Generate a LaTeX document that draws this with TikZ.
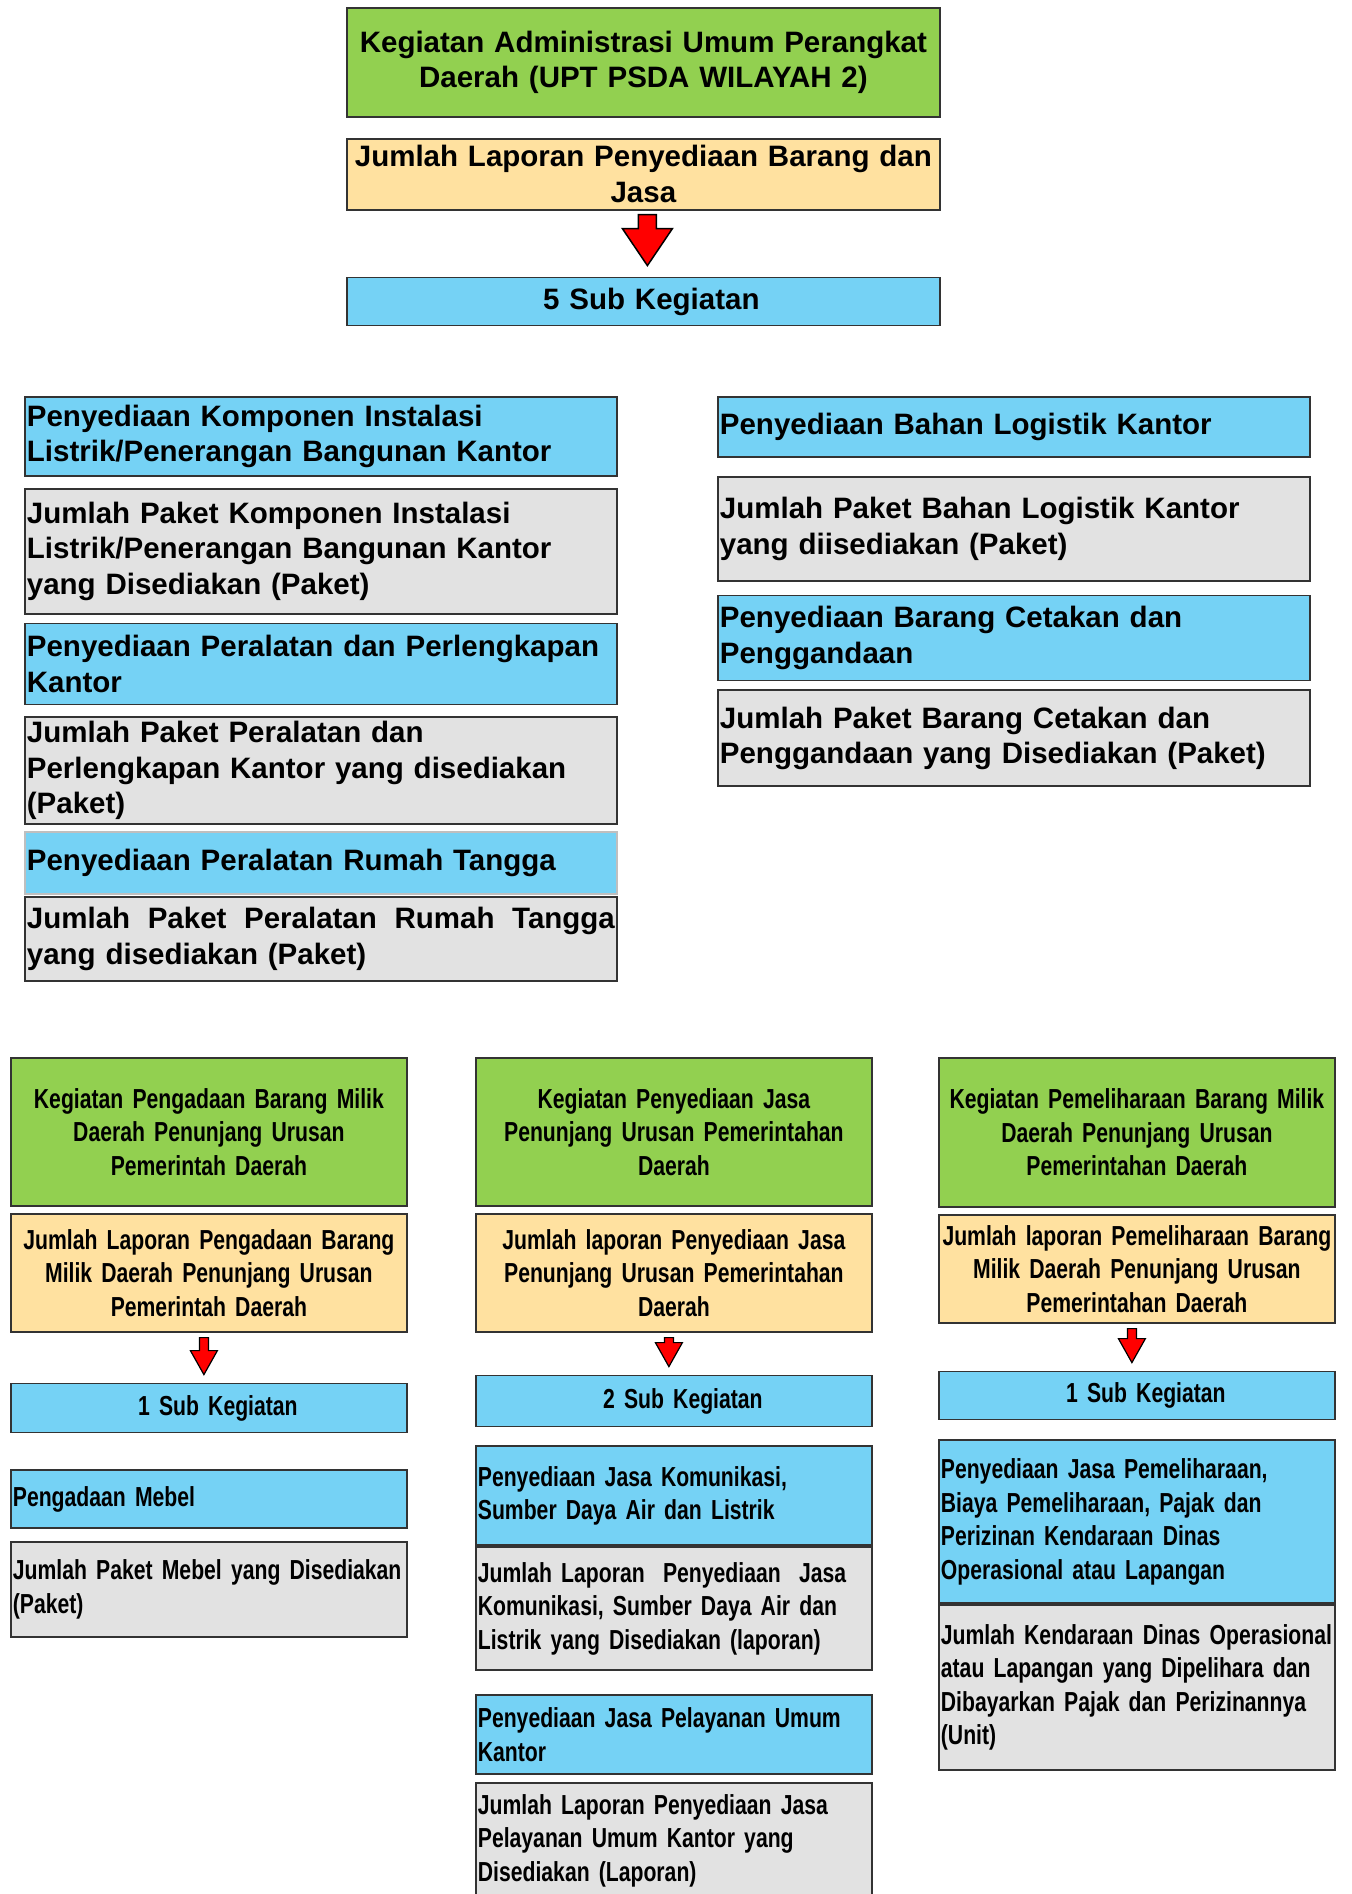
\documentclass[tikz,border=0pt]{standalone}
\usepackage{fontspec}
\setmainfont{Liberation Sans}
\newfontfamily\narrowfont{Liberation Sans}[FakeStretch=0.77]
\usetikzlibrary{calc,positioning}
\hyphenpenalty=10000
\exhyphenpenalty=10000
\definecolor{kegiatanColor}{RGB}{146,208,80}
\definecolor{laporanColor}{RGB}{255,225,160}
\definecolor{subColor}{RGB}{117,210,245}
\definecolor{paketColor}{RGB}{226,226,226}
\tikzset{box/.style={draw=black!80, line width=1.8pt, inner xsep=2pt, inner ysep=0pt}}
\tikzset{kegiatanbox/.style={box, fill=kegiatanColor, align=center}}
\tikzset{laporanbox/.style={box, fill=laporanColor, align=center}}
\tikzset{countbox/.style={box, fill=subColor, align=center}}
\tikzset{subbox/.style={box, fill=subColor, align=left}}
\tikzset{paketbox/.style={box, fill=paketColor, align=left}}
\tikzset{top/.style={font=\bfseries\fontsize{29.5}{35.5}\selectfont, text width=589pt}}
\tikzset{side/.style={font=\bfseries\fontsize{29.5}{35.5}\selectfont, text width=588pt}}
\tikzset{bottom/.style={font=\narrowfont\bfseries\fontsize{27.5}{33.5}\selectfont, text width=392pt}}
\tikzset{bigarrow/.style={fill=red, draw=black, line width=1.5pt, to path={let \p1=(\tikztostart), \p2=(\tikztotarget) in
	(\x1-9pt,\y1-4pt) -- (\x1+9pt,\y1-4pt) -- (\x1+9pt,\y2+48pt) -- (\x1+25pt,\y2+48pt) -- (\x1,\y2+11pt) -- (\x1-25pt,\y2+48pt) -- (\x1-9pt,\y2+48pt) -- cycle}}}
\tikzset{smallarrow/.style={fill=red, draw=black, line width=1.2pt, to path={let \p1=(\tikztostart), \p2=(\tikztotarget) in
	(\x1-4.5pt,\y1-5pt) -- (\x1+4.5pt,\y1-5pt) -- (\x1+4.5pt,\y2+32pt) -- (\x1+13.5pt,\y2+32pt) -- (\x1,\y2+8pt) -- (\x1-13.5pt,\y2+32pt) -- (\x1-4.5pt,\y2+32pt) -- cycle}}}

\begin{document}
\begin{tikzpicture}[x=1pt, y=-1pt]
	\useasboundingbox (0,0) rectangle (1351,1894);

	% Nodes
	\node (admin) [kegiatanbox, top, minimum height=109pt, anchor=north west] at (346,7) {Kegiatan Administrasi Umum Perangkat\\ Daerah (UPT PSDA WILAYAH 2)};
	\node (laporan) [laporanbox, top, minimum height=71pt, below=20pt of admin] {Jumlah Laporan Penyediaan Barang dan\\ Jasa};
	\node (subfive) [countbox, top, minimum height=48pt, below=66pt of laporan] {\hspace*{16pt}5 Sub Kegiatan};

	\node (komponen) [subbox, side, minimum height=79pt, anchor=north west] at (24,396) {Penyediaan Komponen Instalasi\\ Listrik/Penerangan Bangunan Kantor};
	\node (komponenpaket) [paketbox, side, minimum height=125pt, below=11pt of komponen] {Jumlah Paket Komponen Instalasi\\ Listrik/Penerangan Bangunan Kantor\\ yang Disediakan (Paket)};
	\node (peralatan) [subbox, side, minimum height=81pt, below=8pt of komponenpaket] {Penyediaan Peralatan dan Perlengkapan\\ Kantor};
	\node (peralatanpaket) [paketbox, side, minimum height=107pt, below=11pt of peralatan] {Jumlah Paket Peralatan dan\\ Perlengkapan Kantor yang disediakan\\ (Paket)};
	\node (rumahtangga) [subbox, side, draw=black!25, minimum height=62pt, below=6pt of peralatanpaket] {Penyediaan Peralatan Rumah Tangga};
	\node (rumahtanggapaket) [paketbox, side, minimum height=84pt, below=1pt of rumahtangga] {Jumlah \hfill Paket \hfill Peralatan \hfill Rumah \hfill Tangga\\ yang disediakan (Paket)};

	\node (logistik) [subbox, side, minimum height=60pt, anchor=north west] at (717,396) {Penyediaan Bahan Logistik Kantor};
	\node (logistikpaket) [paketbox, side, minimum height=104pt, below=18pt of logistik] {Jumlah Paket Bahan Logistik Kantor\\ yang diisediakan (Paket)};
	\node (cetakan) [subbox, side, minimum height=85pt, below=13pt of logistikpaket] {Penyediaan Barang Cetakan dan\\ Penggandaan};
	\node (cetakanpaket) [paketbox, side, minimum height=96pt, below=8pt of cetakan] {Jumlah Paket Barang Cetakan dan\\ Penggandaan yang Disediakan (Paket)};

	\node (pengadaan) [kegiatanbox, bottom, minimum height=148pt, anchor=north west] at (10,1057) {Kegiatan Pengadaan Barang Milik\\ Daerah Penunjang Urusan\\ Pemerintah Daerah};
	\node (pengadaanlaporan) [laporanbox, bottom, minimum height=118pt, below=6pt of pengadaan] {Jumlah Laporan Pengadaan Barang\\ Milik Daerah Penunjang Urusan\\ Pemerintah Daerah};
	\node (pengadaansub) [countbox, bottom, minimum height=49pt, below=50pt of pengadaanlaporan] {\hspace*{18pt}1 Sub Kegiatan};
	\node (mebel) [subbox, bottom, minimum height=58pt, below=36pt of pengadaansub] {Pengadaan Mebel};
	\node (mebelpaket) [paketbox, bottom, minimum height=95pt, below=12pt of mebel] {Jumlah Paket Mebel yang Disediakan\\ (Paket)};

	\node (jasa) [kegiatanbox, bottom, minimum height=148pt, anchor=north west] at (475,1057) {Kegiatan Penyediaan Jasa\\ Penunjang Urusan Pemerintahan\\ Daerah};
	\node (jasalaporan) [laporanbox, bottom, minimum height=118pt, below=6pt of jasa] {Jumlah laporan Penyediaan Jasa\\ Penunjang Urusan Pemerintahan\\ Daerah};
	\node (jasasub) [countbox, bottom, minimum height=51pt, below=42pt of jasalaporan] {\hspace*{18pt}2 Sub Kegiatan};
	\node (komunikasi) [subbox, bottom, minimum height=99pt, below=18pt of jasasub] {Penyediaan Jasa Komunikasi,\\ Sumber Daya Air dan Listrik};
	\node (komunikasipaket) [paketbox, bottom, minimum height=123pt, below=0pt of komunikasi] {Jumlah Laporan\ \ Penyediaan\ \ Jasa\\ Komunikasi, Sumber Daya Air dan\\ Listrik yang Disediakan (laporan)};
	\node (pelayanan) [subbox, bottom, minimum height=79pt, below=23pt of komunikasipaket] {Penyediaan Jasa Pelayanan Umum\\ Kantor};
	\node (pelayananpaket) [paketbox, bottom, minimum height=116pt, below=7pt of pelayanan] {Jumlah Laporan Penyediaan Jasa\\ Pelayanan Umum Kantor yang\\ Disediakan (Laporan)};

	\node (pemeliharaan) [kegiatanbox, bottom, minimum height=149pt, anchor=north west] at (938,1057) {Kegiatan Pemeliharaan Barang Milik\\ Daerah Penunjang Urusan\\ Pemerintahan Daerah};
	\node (pemeliharaanlaporan) [laporanbox, bottom, minimum height=108pt, below=6pt of pemeliharaan] {Jumlah laporan Pemeliharaan Barang\\ Milik Daerah Penunjang Urusan\\ Pemerintahan Daerah};
	\node (pemeliharaansub) [countbox, bottom, minimum height=48pt, below=47pt of pemeliharaanlaporan] {\hspace*{18pt}1 Sub Kegiatan};
	\node (kendaraan) [subbox, bottom, minimum height=163pt, below=19pt of pemeliharaansub] {Penyediaan Jasa Pemeliharaan,\\ Biaya Pemeliharaan, Pajak dan\\ Perizinan Kendaraan Dinas\\ Operasional atau Lapangan};
	\node (kendaraanpaket) [paketbox, bottom, minimum height=165pt, below=0pt of kendaraan] {Jumlah Kendaraan Dinas Operasional\\ atau Lapangan yang Dipelihara dan\\ Dibayarkan Pajak dan Perizinannya\\ (Unit)};

	% Connectors
	\draw [bigarrow] ([xshift=4pt]laporan.south) to (subfive.north);
	\draw [smallarrow] ([xshift=-5pt]pengadaanlaporan.south) to (pengadaansub.north);
	\draw [smallarrow] ([xshift=-5pt]jasalaporan.south) to (jasasub.north);
	\draw [smallarrow] ([xshift=-5pt]pemeliharaanlaporan.south) to (pemeliharaansub.north);

\end{tikzpicture}
\end{document}
